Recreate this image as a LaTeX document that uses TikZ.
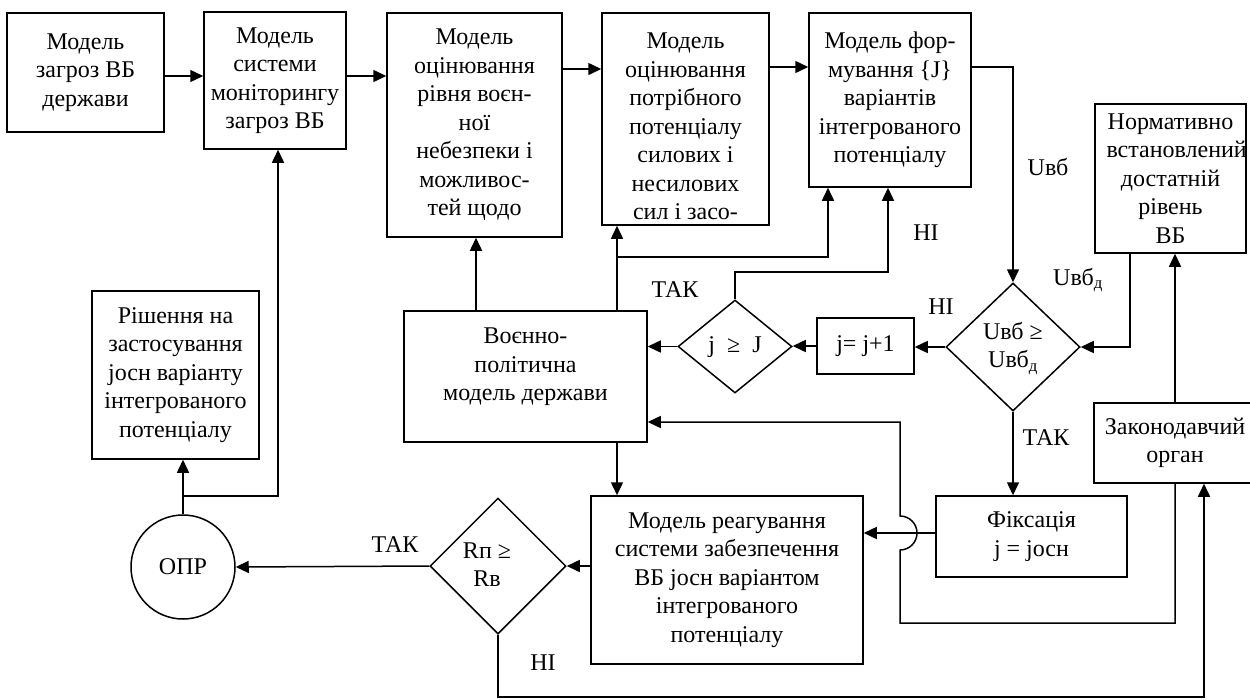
\documentclass[tikz,border=0pt]{standalone}
\usepackage{fontspec}
\setmainfont{Liberation Serif}
\usetikzlibrary{shapes.geometric,arrows.meta}
\newcommand{\dtext}[1]{\smash{\makebox[0pt]{\raisebox{-7pt}{\begin{tabular}{@{}c@{}}#1\end{tabular}}}}}
\begin{document}
\begin{tikzpicture}[x=1pt,y=-1pt,line width=1.5pt,
>={Triangle[length=13pt,width=12pt]},
font=\fontsize{24}{28.5}\selectfont,
block/.style = {rectangle,draw,align=center,inner sep=2pt},
cond/.style = {diamond,draw,inner sep=0pt},
lbl/.style = {inner sep=0pt}]
\useasboundingbox (0,0) rectangle (1250,699);

\node[block,minimum width=157pt,minimum height=119pt] (A) at (85.5,72.5) {Модель\\загроз ВБ\\держави};
\node[block,minimum width=142pt,minimum height=137pt] (B) at (275,80.5) {Модель\\системи\\моніторингу\\загроз ВБ};
\node[block,minimum width=175pt,minimum height=224pt] (C) at (474.5,125) {Модель\\оцінювання\\рівня воєн-\\ної\\небезпеки і\\можливос-\\тей щодо};
\node[block,minimum width=167pt,minimum height=212pt] (D) at (685.5,119) {\mbox{}\\[2.5pt]Модель\\оцінювання\\потрібного\\потенціалу\\силових і\\несилових\\сил і засо-};
\node[block,minimum width=162pt,minimum height=174pt] (E) at (890,100) {Модель фор-\\мування \{J\}\\варіантів\\інтегрованого\\потенціалу};
\node[block,minimum width=151pt,minimum height=149pt,text width=128pt] (N) at (1170.5,178.5) {Нормативно\\встановлений\\достатній\\рівень\\ВБ};
\node[block,minimum width=162pt,minimum height=80pt] (Z) at (1175,443) {Законодавчий\\орган};
\node[cond,minimum width=134pt,minimum height=128pt] (U) at (1013,347) {\dtext{Uвб ≥\\Uвб\textsubscript{д}}};
\node[block,minimum width=97pt,minimum height=56pt] (P) at (865.5,346) {j= j+1};
\node[cond,minimum width=114pt,minimum height=93pt] (K) at (735,346.5) {\dtext{j \ ≥ \ J}};
\node[block,minimum width=243pt,minimum height=131pt] (F) at (525.5,376.5) {Воєнно-\\політична\\модель держави\\[-4pt]\mbox{}};
\node[block,minimum width=191pt,minimum height=81pt] (X) at (1031.5,536.5) {Фіксація\\j = jосн};
\node[block,minimum width=272pt,minimum height=168pt] (G) at (727,580) {Модель реагування\\системи забезпечення\\ВБ jосн варіантом\\інтегрованого\\потенціалу};
\node[cond,minimum width=136pt,minimum height=136pt] (R) at (498,566) {\hspace*{-22pt}\dtext{Rп ≥\\Rв}};
\node[circle,draw,minimum size=104pt,inner sep=0pt] (O) at (183,567) {ОПР};
\node[block,minimum width=167pt,minimum height=168pt] (S) at (175.5,375) {Рішення на\\застосування\\jосн варіанту\\інтегрованого\\потенціалу};

\node[lbl] (tU) at (1048,167) {Uвб};
\node[lbl] (tUd) at (1078,280) {Uвб\textsubscript{д}};
\node[lbl] (tNoU) at (941,307) {НІ};
\node[lbl] (tYesU) at (1046,438) {ТАК};
\node[lbl] (tNoK) at (926,233) {НІ};
\node[lbl] (tYesK) at (675,290) {ТАК};
\node[lbl] (tYesR) at (395,545) {ТАК};
\node[lbl] (tNoR) at (543,663) {НІ};

\coordinate (jD) at (617,257);
\coordinate (jO) at (183,496);

\path[->] (A.east |- 0,76) edge (B.west |- 0,76)
(B.east |- 0,76) edge (C.west |- 0,76)
(C.east |- 0,69) edge (D.west |- 0,69)
(D.east |- 0,67) edge (E.west |- 0,67);
\draw[->] (E.east |- 0,67) -| (U.north);
\draw[->] (1130,0 |- N.south) |- (U.east);
\draw[->] (Z.north) -- (Z.north |- N.south);
\draw[->] (U.west) -- (U.west -| P.east);
\draw[->] (P.west) -- (P.west -| K.east);
\draw[->] (K.west) -- (K.west -| F.east);
\draw[->] (K.north) |- (888,272) -- (888,0 |- E.south);
\draw[->] (617,0 |- F.north) -- (617,0 |- D.south);
\draw[->] (jD) -| (828,0 |- E.south);
\draw[->] (476,0 |- F.north) -- (476,0 |- C.south);
\draw[->] (617,0 |- F.south) -- (617,0 |- G.north);
\draw[->] (U.south) -- (U.south |- X.north);
\draw[->] (X.west |- 0,533) -- (G.east |- 0,533);
\draw[->] (Z.south) -- (Z.south |- 0,623) -- (900,623) -- (900,550) arc[start angle=-90,end angle=90,radius=17pt] -- (900,422) -- (F.east |- 0,422);
\draw[->] (R.south) |- (1204,697) -- (1204,0 |- Z.south);
\draw[->] (G.west |- R.east) -- (R.east);
\draw[->] (R.west) -- (O.east);
\draw[->] (O.north) -- (O.north |- S.south);
\draw[->] (jO) -| (278,0 |- B.south);
\end{tikzpicture}
\end{document}
